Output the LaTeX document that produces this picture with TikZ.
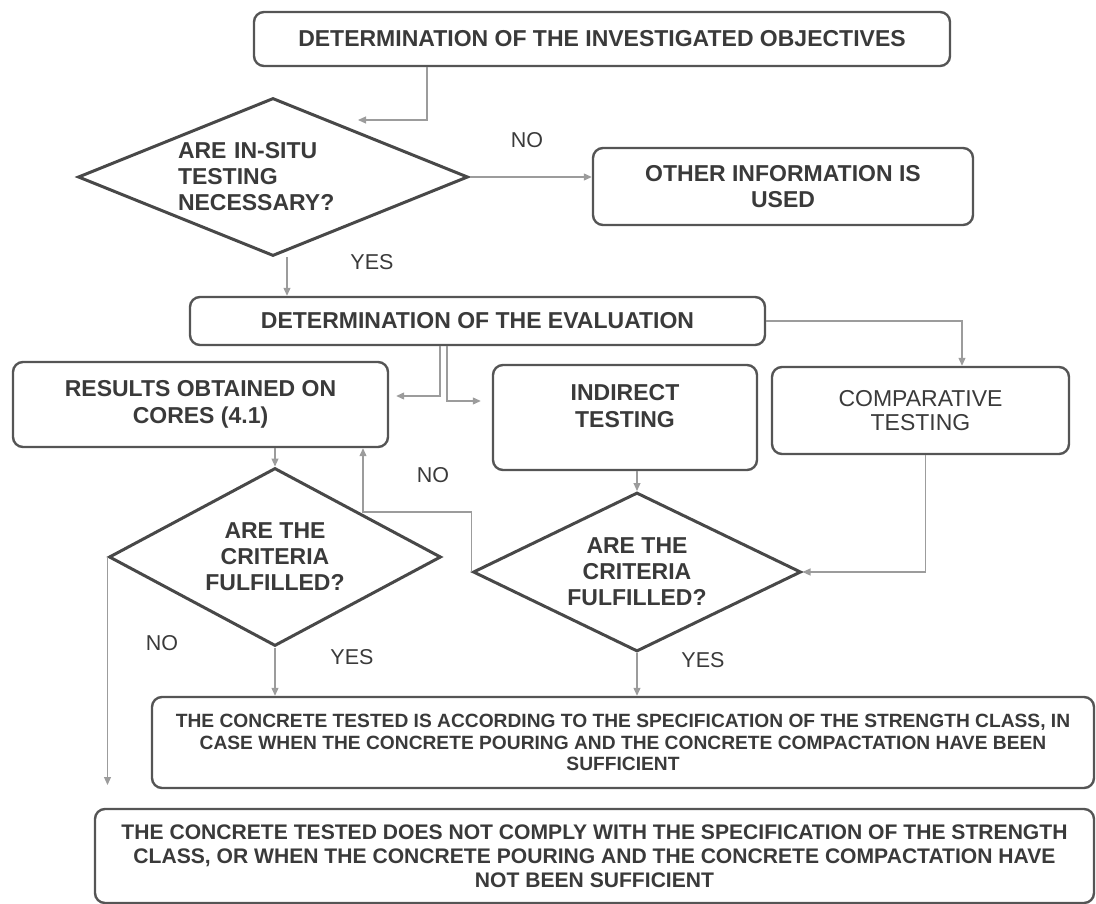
\documentclass[tikz,border=0pt]{standalone}
\usepackage{fontspec}
\setmainfont{Liberation Sans}
\usepackage{xcolor}
\usepackage{tikz}
\usetikzlibrary{shapes.geometric,arrows.meta}

\definecolor{boxgray}{HTML}{555555}
\definecolor{txtgray}{HTML}{3A3A3A}
\definecolor{linegray}{HTML}{9C9C9C}

\tikzset{
  box/.style={draw=boxgray, line width=2.4pt, rounded corners=10pt, text=txtgray,
    font=\fontsize{23}{26.5}\selectfont\bfseries, align=center, inner sep=0pt},
  boxtext/.style={text=txtgray, font=\fontsize{23}{26.5}\selectfont\bfseries,
    align=center, inner sep=0pt},
  decision/.style={diamond, draw=boxgray!85!black, line width=3pt, text=txtgray,
    font=\fontsize{23}{26}\selectfont\bfseries, align=center, inner sep=0pt},
  conn/.style={draw=linegray, line width=1.1pt, -{Triangle[length=8pt,width=7pt]}},
  answer/.style={text=txtgray, font=\fontsize{21.5}{24}\selectfont},
}

\begin{document}
\begin{tikzpicture}[x=1pt, y=-1pt]

    % Frame
    \useasboundingbox (0,0) rectangle (1096,904);

    % Top part
    \node[box, minimum width=696, minimum height=54] (objectives) at (602,39)
        {DETERMINATION OF THE INVESTIGATED OBJECTIVES};
    \node[decision, shape aspect=2.47, minimum width=390, minimum height=158,
        text width=190, align=left] (insitu) at (273,177)
        {ARE IN-SITU\\TESTING\\NECESSARY?};
    \node[box, minimum width=380, minimum height=77] (other) at (783,186.5)
        {OTHER INFORMATION IS\\USED};
    \node[box, minimum width=575, minimum height=48] (evaluation) at (477.5,321)
        {DETERMINATION OF THE EVALUATION};

    % Three kinds of testing
    \node[box, minimum width=375, minimum height=85] (cores) at (200.5,404.5)
        {RESULTS OBTAINED ON\\CORES (4.1)};
    \node[box, minimum width=264, minimum height=105] (indirect) at (625,417.5) {};
    \node[boxtext] (indirecttxt) at (625,406) {INDIRECT\\TESTING};
    \node[box, minimum width=297, minimum height=87, font=\fontsize{23}{24.5}\selectfont]
        (comparative) at (920.5,410.5) {COMPARATIVE\\TESTING};

    % Criteria checks
    \node[decision, shape aspect=1.87, minimum width=332, minimum height=178]
        (critcores) at (275,557) {ARE THE\\CRITERIA\\FULFILLED?};
    \node[decision, shape aspect=2.06, minimum width=328, minimum height=159]
        (critindirect) at (637,572) {ARE THE\\CRITERIA\\FULFILLED?};

    % Conclusions
    \node[box, minimum width=942, minimum height=91, font=\fontsize{19.2}{21.5}\selectfont\bfseries]
        (sufficient) at (623,742.5)
        {THE CONCRETE TESTED IS ACCORDING TO THE SPECIFICATION OF THE STRENGTH CLASS, IN\\
         CASE WHEN THE CONCRETE POURING AND THE CONCRETE COMPACTATION HAVE BEEN\\
         SUFFICIENT};
    \node[box, minimum width=999, minimum height=94, font=\fontsize{21.1}{24}\selectfont\bfseries]
        (notsufficient) at (594.5,856)
        {THE CONCRETE TESTED DOES NOT COMPLY WITH THE SPECIFICATION OF THE STRENGTH\\
         CLASS, OR WHEN THE CONCRETE POURING AND THE CONCRETE COMPACTATION HAVE\\
         NOT BEEN SUFFICIENT};

    % Answers
    \node[answer] (noinsitu) at (527,140) {NO};
    \node[answer] (yesinsitu) at (372,262) {YES};
    \node[answer] (noindirect) at (433,475) {NO};
    \node[answer] (nocores) at (162,643) {NO};
    \node[answer] (yescores) at (352,657) {YES};
    \node[answer] (yesindirect) at (703,660) {YES};

    % Free ends
    \coordinate (insituin) at (358,120);
    \coordinate (noend) at (0,785);

    % Connectors
    \draw[conn] ([xshift=-175]objectives.south) |- (insituin);
    \draw[conn] (insitu.east) -- (insitu.east -| other.west);
    \draw[conn] ([xshift=14]insitu.south) -- ([xshift=14]insitu.south |- evaluation.north);
    \draw[conn] (evaluation.east) -| ([xshift=41.5]comparative.north);
    \draw[conn, shorten >=7] ([xshift=-37.5]evaluation.south) |- ([yshift=8.5]cores.east);
    \draw[conn, shorten >=11] ([xshift=-30.5]evaluation.south) |- ([yshift=16.5]indirect.west);
    \draw[conn] (critcores.north |- cores.south) -- (critcores.north);
    \draw[conn] (critindirect.north |- indirect.south) -- (critindirect.north);
    \draw[conn] ([xshift=5]comparative.south) |- (critindirect.east);
    \draw[conn] (critindirect.west) -- ++(0,-60) -| ([xshift=162.5]cores.south);
    \draw[conn] (critcores.south) -- (critcores.south |- sufficient.north);
    \draw[conn] (critindirect.south) -- (critindirect.south |- sufficient.north);
    \draw[conn] (critcores.west) -- (critcores.west |- noend);

\end{tikzpicture}
\end{document}
